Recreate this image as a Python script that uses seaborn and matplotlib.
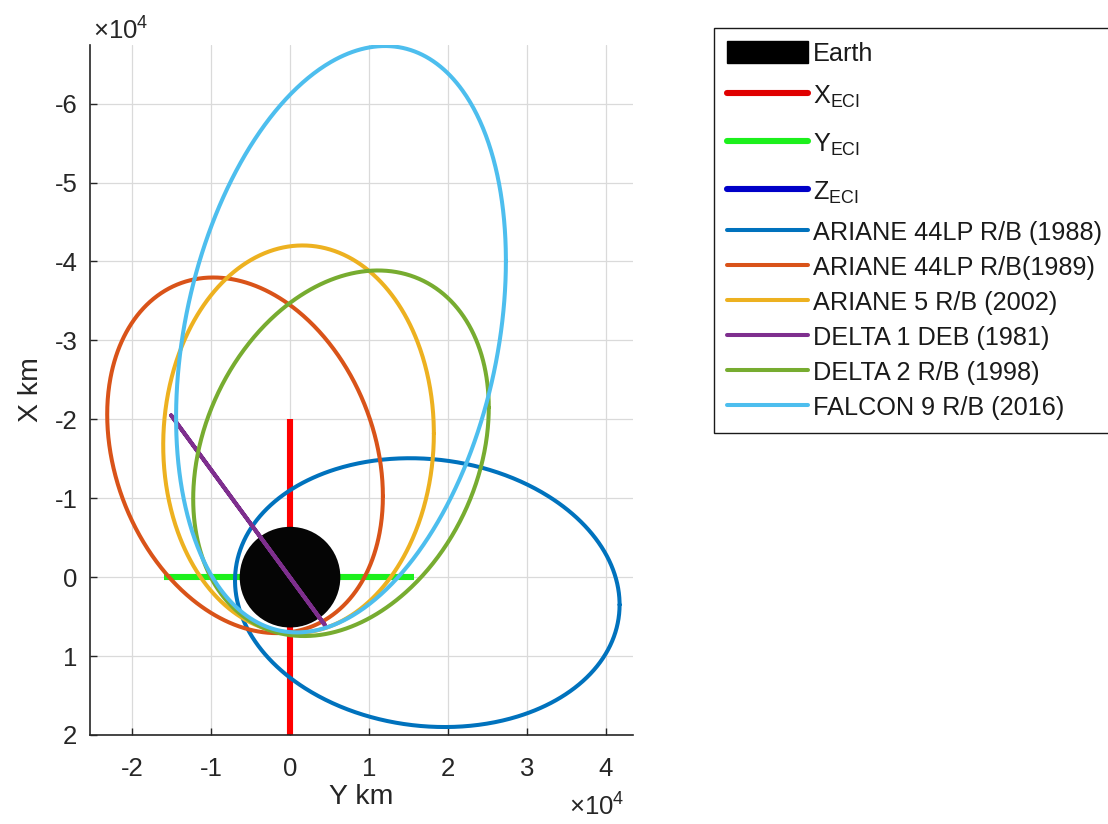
import numpy as np
import pandas as pd
import matplotlib
matplotlib.use("Agg")
import matplotlib.pyplot as plt
from matplotlib.patches import Circle, Patch
from matplotlib.lines import Line2D
from matplotlib.legend_handler import HandlerLine2D
import seaborn as sns

# Tracked objects and their orbit tracks projected on the ECI X-Y plane (km)
objects = ["ARIANE 44LP R/B (1988)", "ARIANE 44LP R/B(1989)", "ARIANE 5 R/B (2002)",
           "DELTA 1 DEB (1981)", "DELTA 2 R/B (1998)", "FALCON 9 R/B (2016)"]
colors = ["#0072BD", "#D95319", "#EDB120", "#7E2F8E", "#77AC30", "#4DBEEE"]

# Each projected track is an ellipse: centre (Y, X), half extent along Y and X,
# and the coupling between Y and X (1.0 = seen edge-on, a straight segment)
center_y = [17400, -5700, 1080, -5315, 6460, 6460]
center_x = [1960, -15440, -17470, -7210, -15700, -30150]
half_y = [24370, 17470, 17150, 9745, 18730, 20900]
half_x = [17030, 22530, 24560, 13290, 23160, 37150]
coupling = [0.09, 0.23, -0.03, 1.0, -0.25, -0.267]

# ECI reference axes and Earth
earth_radius = 6378
x_eci_span = [-20000, 20000]   # drawn along X at Y = 0
y_eci_span = [-16000, 15700]   # drawn along Y at X = 0

y_ticks = [-2, -1, 0, 1, 2, 3, 4]
x_ticks = [-6, -5, -4, -3, -2, -1, 0, 1, 2]
scale = 1e4

sns.set_theme(style="white")
plt.rcParams["font.family"] = ["Liberation Sans", "DejaVu Sans"]
plt.rcParams["mathtext.fontset"] = "custom"
plt.rcParams["mathtext.rm"] = "Liberation Sans"
plt.rcParams["mathtext.it"] = "Liberation Sans:italic"


class TallRowHandler(HandlerLine2D):
    """Line handle whose legend row gets extra height for subscripted labels."""

    def __init__(self, extra, **kw):
        super().__init__(**kw)
        self.extra = extra

    def legend_artist(self, legend, orig_handle, fontsize, handlebox):
        artist = super().legend_artist(legend, orig_handle, fontsize, handlebox)
        handlebox.height += self.extra
        handlebox.ydescent += self.extra / 2
        return artist


W, H = 1108, 824
fig = plt.figure(figsize=(W / 100, H / 100), dpi=100)
ax = fig.add_axes([90 / W, 1 - 735 / H, (633 - 90) / W, (735 - 45) / H])

# orbit tracks
t = np.linspace(0, 2 * np.pi, 721)
frames = []
for name, cy, cx, hy, hx, r in zip(objects, center_y, center_x, half_y, half_x, coupling):
    yy = cy + hy * np.cos(t)
    xx = cx + hx * (r * np.cos(t) + np.sqrt(max(0.0, 1 - r * r)) * np.sin(t))
    frames.append(pd.DataFrame({"Y km": yy, "X km": xx, "object": name}))
tracks = pd.concat(frames, ignore_index=True)

# ECI axes (under the Earth)
axis_lw = 4.4
ax.plot([0, 0], x_eci_span, color="#ff0000", lw=axis_lw, zorder=2, solid_capstyle="butt")
ax.plot(y_eci_span, [0, 0], color="#1cf01c", lw=axis_lw, zorder=2, solid_capstyle="butt")
ax.plot([0, 0], [0, 0], color="#0000ff", lw=axis_lw, zorder=2)

ax.add_patch(Circle((0, 0), earth_radius, facecolor="#050505", edgecolor="none", zorder=3))

orbit_lw = 2.9
sns.lineplot(data=tracks, x="Y km", y="X km", hue="object", hue_order=objects,
             palette=colors, sort=False, estimator=None, lw=orbit_lw, legend=False,
             ax=ax, zorder=4)

ax.set_xlim(-25350, 43470)
ax.set_ylim(20000, -67430)

ax.set_xticks([v * scale for v in y_ticks])
ax.set_xticklabels([str(v) for v in y_ticks])
ax.set_yticks([v * scale for v in x_ticks])
ax.set_yticklabels([str(v) for v in x_ticks])

ax.grid(True, color="#dadada", lw=0.9)
for side in ["top", "right"]:
    ax.spines[side].set_visible(False)
for side in ["left", "bottom"]:
    ax.spines[side].set_color("#262626")
    ax.spines[side].set_linewidth(1.2)
ax.tick_params(axis="both", direction="in", length=5, width=1, colors="#262626",
               labelsize=18.5, left=True, bottom=True, top=False, right=False)
ax.tick_params(axis="x", pad=16)
ax.tick_params(axis="y", pad=9)

ax.set_xlabel("Y km", fontsize=20.5, color="#262626", labelpad=2)
ax.set_ylabel("X km", fontsize=20.5, color="#262626", labelpad=8)

ax.text(0.005, 1.0, r"$\times\mathregular{10^{4}}$", transform=ax.transAxes,
        ha="left", va="bottom", fontsize=18.5, color="#262626")
ax.text(0.985, -0.085, r"$\times\mathregular{10^{4}}$", transform=ax.transAxes,
        ha="right", va="top", fontsize=18.5, color="#262626")

eci_handles = [Line2D([], [], color="#e00000", lw=axis_lw),
               Line2D([], [], color="#1cf01c", lw=axis_lw),
               Line2D([], [], color="#0000c8", lw=axis_lw)]
handles = [Patch(facecolor="black", edgecolor="black")] + eci_handles
handles += [Line2D([], [], color=c, lw=orbit_lw) for c in colors]
labels = ["Earth", r"$\mathregular{X_{ECI}}$", r"$\mathregular{Y_{ECI}}$",
          r"$\mathregular{Z_{ECI}}$"] + objects

leg = fig.legend(handles, labels, loc="upper left",
                 bbox_to_anchor=(714 / W, 1 - 28 / H), bbox_transform=fig.transFigure,
                 frameon=True, fancybox=False, edgecolor="#1a1a1a", framealpha=1,
                 borderaxespad=0, handlelength=3.2, handleheight=1.0,
                 handletextpad=0.2, labelspacing=0.40, borderpad=0.5, fontsize=18.2,
                 handler_map={h: TallRowHandler(11.0) for h in eci_handles})
leg.get_frame().set_linewidth(1.0)
for txt in leg.get_texts():
    txt.set_color("#1a1a1a")

fig.savefig("out.png", dpi=100, facecolor="white")
